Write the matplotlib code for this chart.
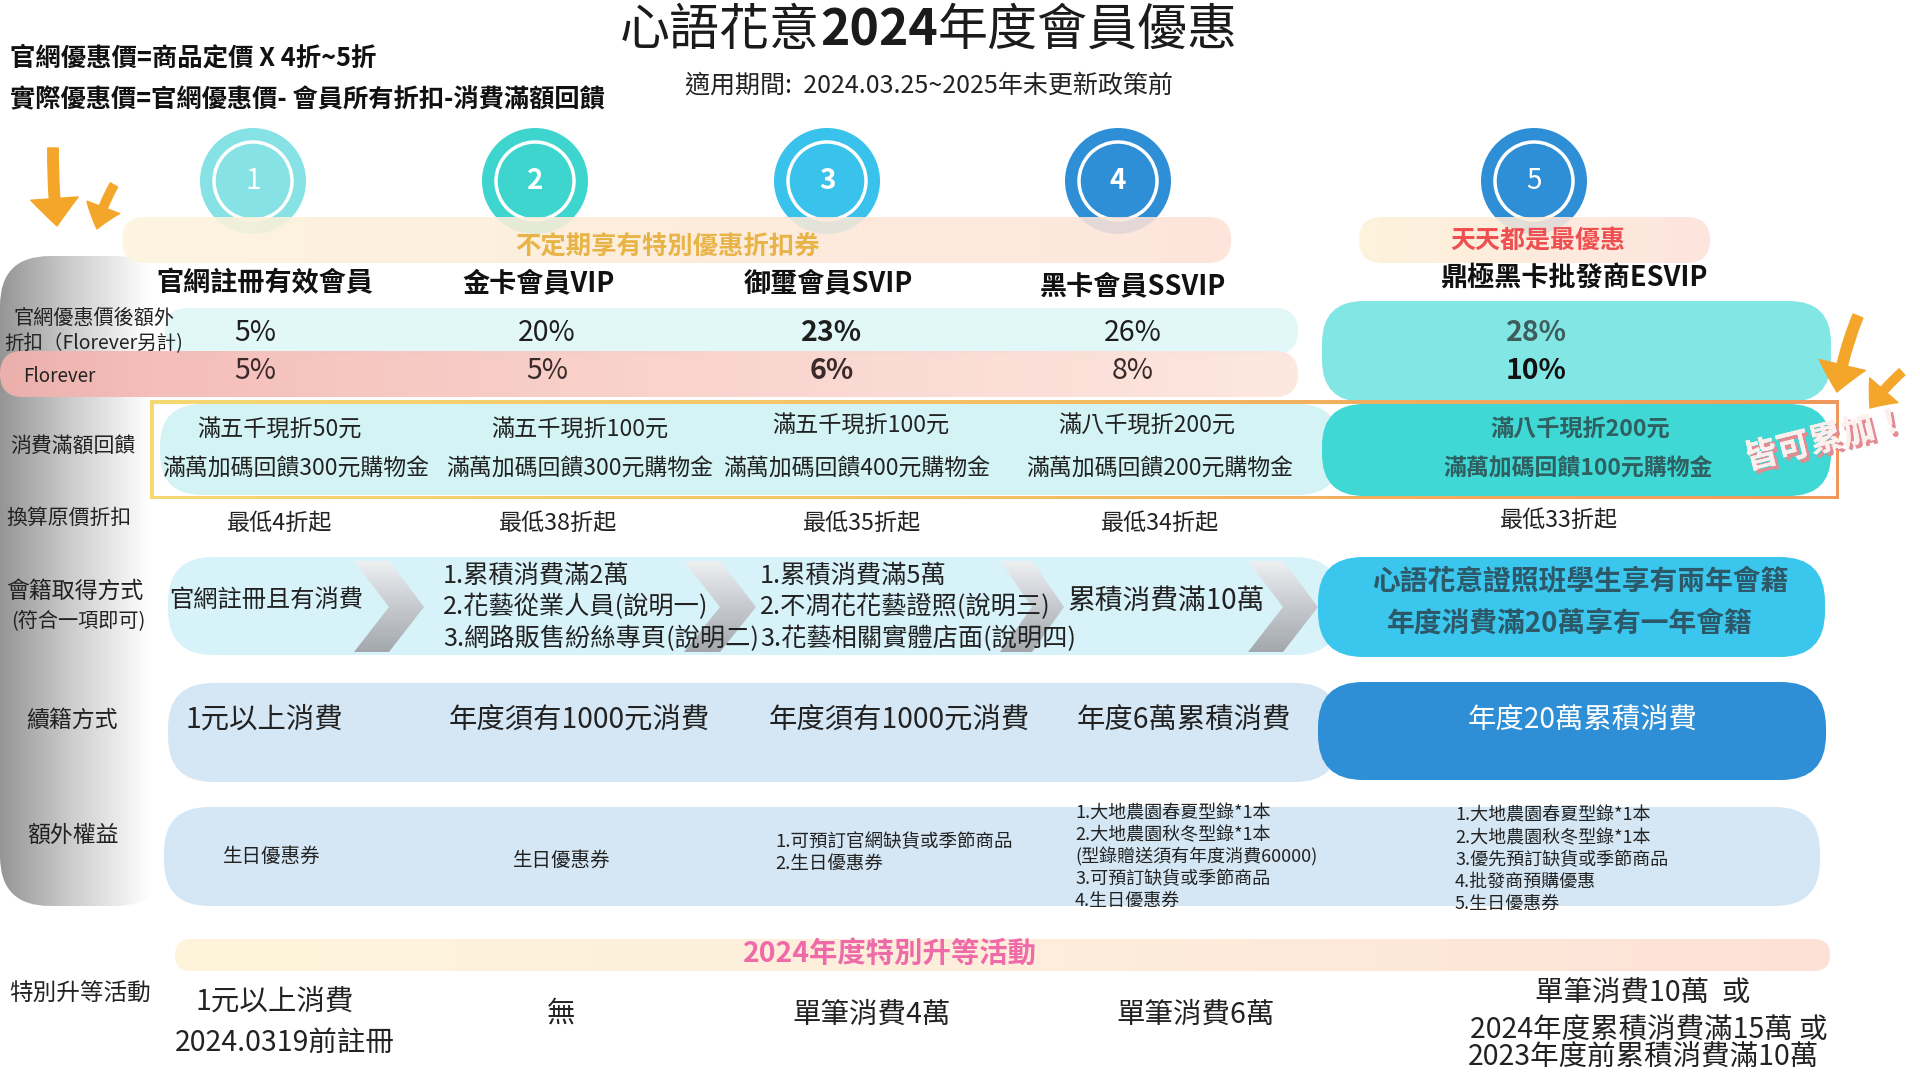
import numpy as np
import matplotlib.pyplot as plt
import matplotlib.patheffects as pe
from matplotlib.patches import FancyBboxPatch, Circle, Polygon, PathPatch, FancyArrowPatch, ArrowStyle
from matplotlib.colors import LinearSegmentedColormap
from matplotlib.path import Path

plt.rcParams['font.family'] = ['Noto Sans CJK TC', 'DejaVu Sans']

# ---- content of the chart ----
title_parts = ['心語花意', '2024', '年度會員優惠']
subtitle = '適用期間:  2024.03.25~2025年未更新政策前'
formulas = ['官網優惠價=商品定價 X 4折~5折', '實際優惠價=官網優惠價- 會員所有折扣-消費滿額回饋']

tier_numbers = ['1', '2', '3', '4', '5']
tiers = ['官網註冊有效會員', '金卡會員VIP', '御璽會員SVIP', '黑卡會員SSVIP', '鼎極黑卡批發商ESVIP']
banners = ['不定期享有特別優惠折扣券', '天天都是最優惠']
upgrade_banner = '2024年度特別升等活動'
stack_note = '皆可累加！'

row_labels = ['官網優惠價後額外', '折扣（Florever另計)', 'Florever', '消費滿額回饋', '換算原價折扣',
              '會籍取得方式', '(符合一項即可)', '續籍方式', '額外權益', '特別升等活動']

extra_discount = ['5%', '20%', '23%', '26%', '28%']
florever_discount = ['5%', '5%', '6%', '8%', '10%']
cash_off = ['滿五千現折50元', '滿五千現折100元', '滿五千現折100元', '滿八千現折200元', '滿八千現折200元']
bonus_credit = ['滿萬加碼回饋300元購物金', '滿萬加碼回饋300元購物金', '滿萬加碼回饋400元購物金',
                '滿萬加碼回饋200元購物金', '滿萬加碼回饋100元購物金']
lowest_rate = ['最低4折起', '最低38折起', '最低35折起', '最低34折起', '最低33折起']
join_rules = [['官網註冊且有消費'],
              ['1.累積消費滿2萬', '2.花藝從業人員(說明一)', '3.網路販售紛絲專頁(說明二)'],
              ['1.累積消費滿5萬', '2.不凋花花藝證照(說明三)', '3.花藝相關實體店面(說明四)'],
              ['累積消費滿10萬'],
              ['心語花意證照班學生享有兩年會籍', '年度消費滿20萬享有一年會籍']]
renew_rules = ['1元以上消費', '年度須有1000元消費', '年度須有1000元消費', '年度6萬累積消費', '年度20萬累積消費']
perks = [['生日優惠券'],
         ['生日優惠券'],
         ['1.可預訂官網缺貨或季節商品', '2.生日優惠券'],
         ['1.大地農園春夏型錄*1本', '2.大地農園秋冬型錄*1本', '(型錄贈送須有年度消費60000)',
          '3.可預訂缺貨或季節商品', '4.生日優惠券'],
         ['1.大地農園春夏型錄*1本', '2.大地農園秋冬型錄*1本', '3.優先預訂缺貨或季節商品',
          '4.批發商預購優惠', '5.生日優惠券']]
upgrade_rules = [['1元以上消費', '2024.0319前註冊'],
                 ['無'],
                 ['單筆消費4萬'],
                 ['單筆消費6萬'],
                 ['單筆消費10萬  或', '2024年度累積消費滿15萬 或', '2023年度前累積消費滿10萬']]

# ---- layout (pixel coordinates, y down) ----
circle_x = [253, 535, 827, 1118, 1534]
circle_colors = ['#86e2e5', '#3fd5cf', '#38c2ec', '#2f8fd6', '#2f8fd6']
number_weights = ['normal', 'bold', 'bold', 'bold', 'normal']
tier_x = [265, 539, 828, 1133, 1574]
tier_y = [283, 283, 283, 286, 279]
val_x = [255, 547, 832, 1133, 1536]
cash_x = [279, 580, 861, 1147, 1580]
bonus_x = [296, 580, 857, 1160, 1578]
low_x = [279, 557, 861, 1159, 1558]
renew_x = [264, 579, 899, 1184, 1583]
label_xy = [(94, 318), (94, 344), (59, 376), (73, 446), (69, 518),
            (75, 591), (78, 621), (72, 720), (73, 835), (80, 994)]
label_sizes = [14.5, 14, 13.5, 15, 15, 16.5, 14.5, 16.5, 16.5, 17]

fig = plt.figure(figsize=(19.2, 10.8), dpi=100)
ax = fig.add_axes([0, 0, 1, 1])
ax.set_xlim(0, 1920)
ax.set_ylim(1080, 0)
ax.axis('off')


def txt(x, y, s, size, color='#222222', weight='normal', ha='center', z=10, **kw):
    return ax.text(x, y, s, fontsize=size, color=color, fontweight=weight, ha=ha, va='center', zorder=z, **kw)


def pill(x0, y0, x1, y1, r, fc='none', z=2, alpha=1.0):
    p = FancyBboxPatch((x0, y0), x1 - x0, y1 - y0, boxstyle=f'round,pad=0,rounding_size={r}',
                       fc=fc, ec='none', zorder=z, alpha=alpha)
    ax.add_patch(p)
    return p


def gradient(clip, extent, colors, vertical=False, z=2, alpha=1.0):
    cmap = LinearSegmentedColormap.from_list('g', colors)
    g = np.linspace(0, 1, 256)
    arr = g[:, None] if vertical else g[None, :]
    x0, x1, y0, y1 = extent
    im = ax.imshow(arr, cmap=cmap, extent=(x0, x1, y1, y0), aspect='auto',
                   interpolation='bilinear', zorder=z, alpha=alpha)
    im.set_clip_path(clip)


# ---- header ----
fig.canvas.draw()
rend = fig.canvas.get_renderer()
pieces = [txt(0, 31, s, 36, color='#1b1b1b', weight=w, ha='left')
          for s, w in zip(title_parts, ['normal', 'bold', 'normal'])]
widths = [t.get_window_extent(rend).width for t in pieces]
xpos = 929 - sum(widths) / 2
for t, w in zip(pieces, widths):
    t.set_x(xpos)
    xpos += w
txt(929, 85, subtitle, 18, color='#222222')
txt(10, 58, formulas[0], 18.3, color='#111111', weight='bold', ha='left')
txt(10, 100, formulas[1], 18.2, color='#111111', weight='bold', ha='left')

# ---- circles and banners ----
for cx, col, num, w in zip(circle_x, circle_colors, tier_numbers, number_weights):
    ax.add_patch(Circle((cx, 181), 53, fc=col, ec='none', zorder=3))
    ax.add_patch(Circle((cx, 181), 39, fc='none', ec='white', lw=2.5, zorder=4))
    txt(cx, 181, num, 20, color='white', weight=w, z=5)

b1 = pill(122, 217, 1231, 263, 23, z=5)
gradient(b1, (122, 1231, 217, 263), ['#fdf4dc', '#fdebd8', '#fde2d8'], z=5, alpha=0.88)
b2 = pill(1359, 217, 1710, 263, 23, z=5)
gradient(b2, (1359, 1710, 217, 263), ['#fdf2d8', '#fde1da'], z=5, alpha=0.88)
txt(667, 247, banners[0], 18.3, color='#e9b447', weight='bold')
txt(1538, 241, banners[1], 18, color='#ef4f50', weight='bold')

for x, y, s in zip(tier_x, tier_y, tiers):
    txt(x, y, s, 19.5, color='#111111', weight='bold')

# ---- left sidebar ----
side = pill(0, 256, 165, 906, 50, z=1)
gradient(side, (0, 150, 256, 906), ['#959595', '#cfcfcf', '#ffffff'], z=1)

# ---- discount rows ----
pill(165, 308, 1298, 354, 23, fc='#e2f8f8', z=2)
pink = pill(0, 351, 1298, 397, 23, z=2)
gradient(pink, (0, 1298, 351, 397), ['#f3b2ae', '#f9cfc8', '#fde6dc'], z=2, alpha=0.92)
pill(1322, 301, 1831, 402, 42, fc='#82e6e4', z=3)
for i in range(5):
    w1 = 'bold' if i >= 2 and i != 3 else 'normal'
    c1 = '#3e5c5c' if i == 4 else '#1e1e1e'
    txt(val_x[i], 333, extra_discount[i], 20.5, color=c1, weight=w1)
    w2 = 'bold' if i in (2, 4) else 'normal'
    c2 = '#111111' if i == 4 else '#3a2a2a'
    txt(val_x[i], 371, florever_discount[i], 20.5, color=c2, weight=w2)

# ---- cash back row ----
pill(160, 404, 1340, 495, 42, fc='#d3f3f5', z=2)
pill(1322, 404, 1831, 496, 42, fc='#3fd8d4', z=3)
ox0, oy0, ox1, oy1 = 150, 400, 1839, 499
outer = Path([(ox0, oy0), (ox1, oy0), (ox1, oy1), (ox0, oy1), (ox0, oy0)], closed=True)
inner = Path([(ox0 + 3.5, oy0 + 3.5), (ox0 + 3.5, oy1 - 3.5), (ox1 - 3.5, oy1 - 3.5),
              (ox1 - 3.5, oy0 + 3.5), (ox0 + 3.5, oy0 + 3.5)], closed=True)
frame = PathPatch(Path.make_compound_path(outer, inner), fc='none', ec='none', zorder=4)
ax.add_patch(frame)
gradient(frame, (ox0, ox1, oy0, oy1), ['#f6d872', '#f4c063', '#f0985c'], z=4)
for i in range(5):
    col = '#2f5f60' if i == 4 else '#222222'
    w = 'bold' if i == 4 else 'normal'
    y1 = 426 if i in (2, 3) else 430
    txt(cash_x[i], y1, cash_off[i], 16.7, color=col, weight=w)
    txt(bonus_x[i], 469, bonus_credit[i], 16.5, color=col, weight=w)

for i in range(5):
    txt(low_x[i], 520 if i == 4 else 523, lowest_rate[i], 16.7, color='#222222')

# ---- membership rules row ----
pill(168, 557, 1340, 655, 45, fc='#d7f2f9', z=2)
pill(1318, 557, 1825, 657, 45, fc='#3bc6ee', z=3)
for x0, x1 in [(354, 424), (684, 756), (1000, 1064), (1248, 1318)]:
    w = x1 - x0
    chev = Polygon([(x0, 561), (x0 + 0.5 * w, 561), (x1, 607), (x0 + 0.5 * w, 652), (x0, 652),
                    (x0 + 0.5 * w, 607)], closed=True, fc='none', ec='none', zorder=4)
    ax.add_patch(chev)
    gradient(chev, (x0, x1, 561, 652), ['#eef0f2', '#c6cacf', '#a3a8ad'], vertical=True, z=4)

txt(266, 601, join_rules[0][0], 17.5, color='#222222')
for i, (x, rules) in enumerate([(443, join_rules[1]), (760, join_rules[2])]):
    for y, s in zip([576, 607, 639], rules):
        txt(x, y, s, 18.2, color='#222222', ha='left')
txt(1166, 601, join_rules[3][0], 20, color='#222222')
txt(1580, 582, join_rules[4][0], 20, color='#2c5868', weight='bold')
txt(1570, 624, join_rules[4][1], 20, color='#2c5868', weight='bold')

# ---- renewal row ----
pill(168, 683, 1340, 782, 45, fc='#d5e7f4', z=2)
pill(1318, 682, 1826, 780, 45, fc='#2e8fd6', z=3)
for i in range(5):
    col = 'white' if i == 4 else '#222222'
    txt(renew_x[i], 720, renew_rules[i], 20.4, color=col)

# ---- perks row ----
pill(164, 807, 1820, 906, 45, fc='#d5e7f4', z=2)
txt(272, 856, perks[0][0], 14, color='#222222')
txt(562, 860, perks[1][0], 14, color='#222222')
for y, s in zip([842, 864], perks[2]):
    txt(775, y, s, 13.3, color='#222222', ha='left')
for y, s in zip([813, 835, 857, 879, 901], perks[3]):
    txt(1075, y, s, 13, color='#222222', ha='left')
for y, s in zip([815, 838, 860, 882, 904], perks[4]):
    txt(1455, y, s, 13, color='#222222', ha='left')

# ---- upgrade row ----
up = pill(175, 939, 1830, 971, 16, z=2)
gradient(up, (175, 1830, 939, 971), ['#fdf4dc', '#fdeedb', '#fde1d7'], z=2)
txt(890, 954, upgrade_banner, 20.4, color='#ef6aa8', weight='bold')
txt(275, 1002, upgrade_rules[0][0], 20.5)
txt(285, 1043, upgrade_rules[0][1], 20.5)
txt(561, 1014, upgrade_rules[1][0], 20.5)
txt(872, 1015, upgrade_rules[2][0], 20.5)
txt(1196, 1015, upgrade_rules[3][0], 20.5)
for x, y, s in zip([1643, 1649, 1643], [993, 1030, 1057], upgrade_rules[4]):
    txt(x, y, s, 20.5)

# ---- row labels ----
for (x, y), s, fs in zip(label_xy, row_labels, label_sizes):
    txt(x, y, s, fs, color='#222222', z=11)

# ---- decorations: arrows and stacking note ----
arrows = [((53, 148), (57, 226), 0.42, 1.9, 1.1, 0.03),
          ((114, 185), (97, 229), 0.34, 1.4, 0.9, 0.08),
          ((1858, 316), (1837, 392), 0.42, 1.9, 1.1, 0.06),
          ((1902, 372), (1870, 408), 0.34, 1.5, 0.9, 0.06)]
for a, b, tw, hw, hl, rad in arrows:
    ax.add_patch(FancyArrowPatch(a, b, arrowstyle=ArrowStyle('simple', head_length=hl, head_width=hw, tail_width=tw),
                                 mutation_scale=18, color='#f4a62a', shrinkA=0, shrinkB=0,
                                 connectionstyle=f'arc3,rad={rad}', zorder=7))

txt(1826, 440, stack_note, 24, color='#fbf0ed', weight='bold', z=12, rotation=14,
    path_effects=[pe.withSimplePatchShadow(offset=(2.5, -2.5), shadow_rgbFace='#e48a92', alpha=1.0),
                  pe.Normal()])

ax.set_xlim(0, 1920)
ax.set_ylim(1080, 0)
fig.savefig('out.png', dpi=100, facecolor='white')
